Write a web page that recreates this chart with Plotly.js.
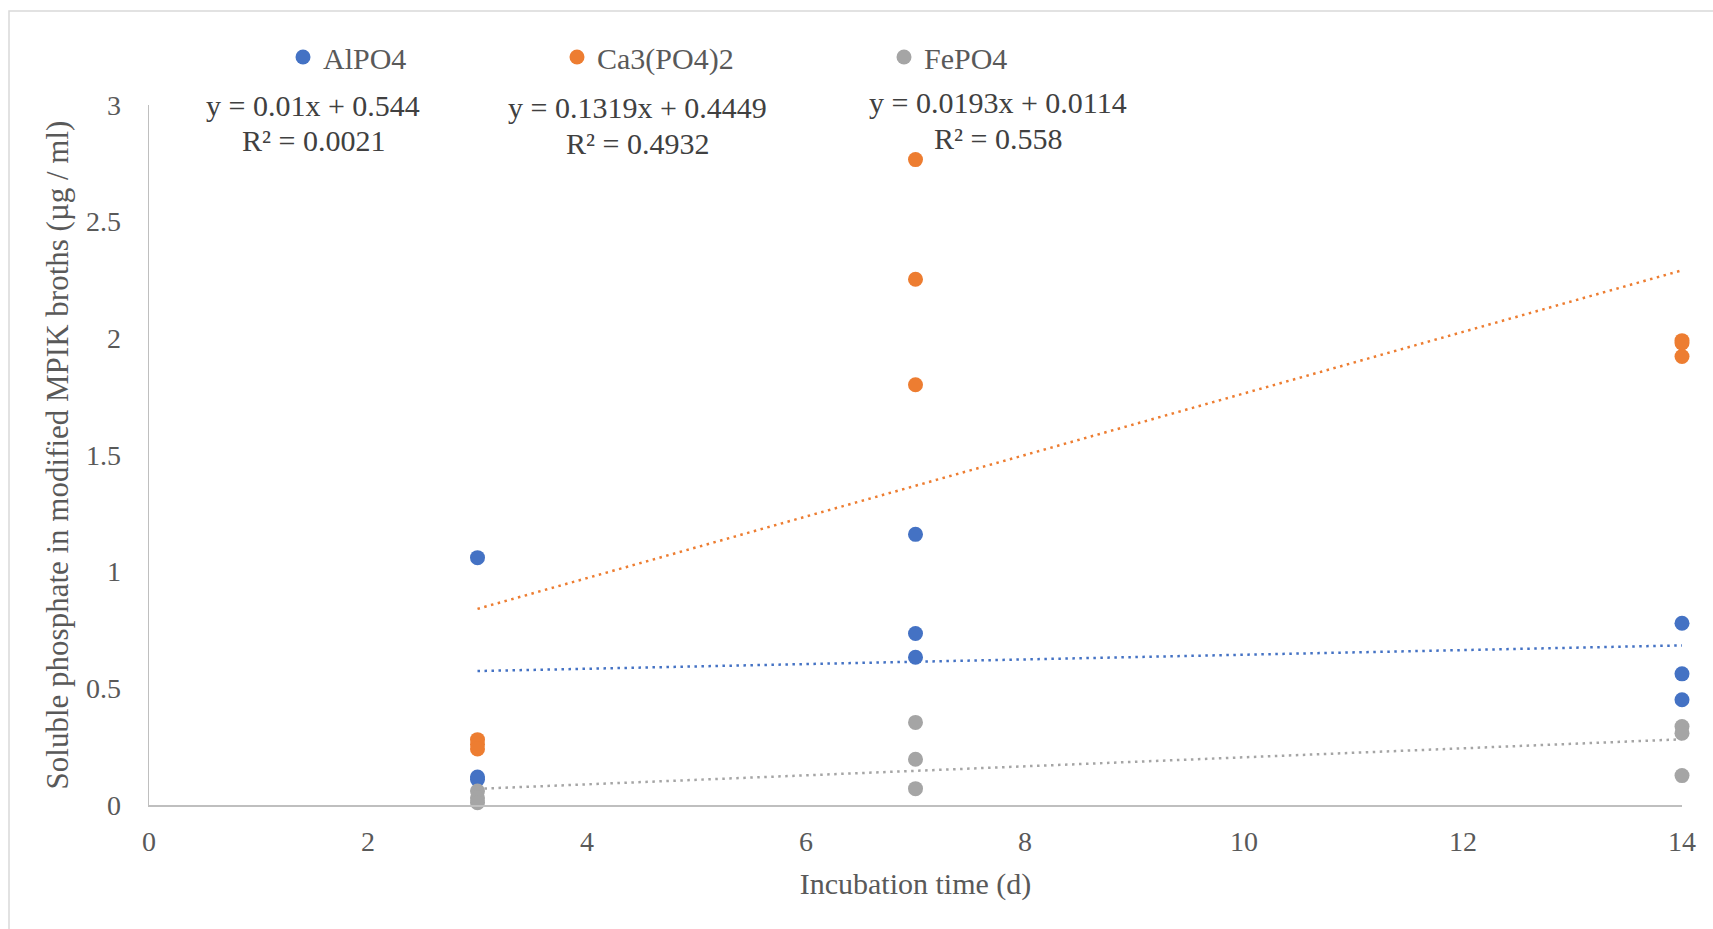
<!DOCTYPE html>
<html>
<head>
<meta charset="utf-8">
<script src="https://cdn.plot.ly/plotly-3.0.1.min.js"></script>
<style>html,body{margin:0;padding:0;background:#fff;}#chart{width:1713px;height:929px;}</style>
</head>
<body>
<div id="chart"></div>
<script>
// Incubation time (d) for each measurement
const days = [3, 3, 3, 7, 7, 7, 14, 14, 14];
// Soluble phosphate (µg / ml)
const alpo4   = [1.06, 0.12, 0.11, 1.16, 0.735, 0.633, 0.779, 0.562, 0.451];
const ca3po42 = [0.28, 0.26, 0.24, 2.766, 2.253, 1.801, 1.99, 1.98, 1.922];
const fepo4   = [0.06, 0.03, 0.01, 0.354, 0.196, 0.070, 0.336, 0.308, 0.126];

const seriesNames = ['AlPO4', 'Ca3(PO4)2', 'FePO4'];
const seriesColors = ['#4472C4', '#ED7D31', '#A5A5A5'];
// Linear trendlines as labelled on the chart
const slopes = [0.01, 0.1319, 0.0193];
const intercepts = [0.544, 0.4449, 0.0114];
const r2 = ['0.0021', '0.4932', '0.558'];
const eqText = ['y = 0.01x + 0.544', 'y = 0.1319x + 0.4449', 'y = 0.0193x + 0.0114'];
const trendX = [3, 14];

const xTicks = [0, 2, 4, 6, 8, 10, 12, 14];
const yTicks = [0, 0.5, 1, 1.5, 2, 2.5, 3];

const FONT = 'Liberation Serif, Times New Roman, serif';
const values = [alpo4, ca3po42, fepo4];
const legendIds = ['legend', 'legend2', 'legend3'];

const traces = [];
values.forEach((v, i) => {
  traces.push({
    type: 'scatter', mode: 'lines', x: trendX,
    y: trendX.map(x => slopes[i] * x + intercepts[i]),
    line: {color: seriesColors[i], width: 2.5, dash: '2.5px,4.5px'},
    showlegend: false, hoverinfo: 'skip', cliponaxis: false
  });
});
values.forEach((v, i) => {
  traces.push({
    type: 'scatter', mode: 'markers', name: seriesNames[i], x: days, y: v,
    marker: {color: seriesColors[i], size: 15}, cliponaxis: false, legend: legendIds[i]
  });
});

const L = 149, R = 31, T = 105, B = 124;
const W = 1713 - L - R, H = 929 - T - B;
const px = x => (x - L) / W;
const py = y => (929 - B - y) / H;

const eqPos = [[313, 105, 141], [637, 107, 143], [998, 102, 138]];
const annotations = [];
eqPos.forEach((p, i) => {
  annotations.push({xref: 'paper', yref: 'paper', x: px(p[0]), y: py(p[1]), text: eqText[i],
    showarrow: false, xanchor: 'center', yanchor: 'middle', font: {family: FONT, size: 30, color: '#404040'}});
  annotations.push({xref: 'paper', yref: 'paper', x: px(p[0]), y: py(p[2]), text: 'R² = ' + r2[i],
    showarrow: false, xanchor: 'center', yanchor: 'middle', font: {family: FONT, size: 30, color: '#404040'}});
});

const legendMarkerX = [303, 577, 904];
const legendBase = {orientation: 'h', xanchor: 'left', yanchor: 'middle', y: py(57),
  font: {family: FONT, size: 30, color: '#595959'}, bgcolor: 'rgba(0,0,0,0)', itemwidth: 30};

const layout = {
  width: 1713, height: 929,
  margin: {l: L, r: R, t: T, b: B, pad: 0},
  paper_bgcolor: '#ffffff', plot_bgcolor: '#ffffff',
  font: {family: FONT, color: '#595959', size: 28},
  showlegend: true,
  xaxis: {range: [0, 14], tickvals: xTicks, ticktext: xTicks.map(String), showgrid: false, zeroline: false,
    showline: true, linecolor: '#BFBFBF', linewidth: 2, ticks: 'outside', ticklen: 10, tickcolor: 'rgba(0,0,0,0)',
    tickfont: {family: FONT, size: 28, color: '#595959'},
    title: {text: 'Incubation time (d)', standoff: 17, font: {family: FONT, size: 30, color: '#595959'}}},
  yaxis: {range: [0, 3], tickvals: yTicks, ticktext: yTicks.map(String), showgrid: false, zeroline: false,
    showline: true, linecolor: '#BFBFBF', linewidth: 1.5, ticks: 'outside', ticklen: 21, tickcolor: 'rgba(0,0,0,0)',
    tickfont: {family: FONT, size: 28, color: '#595959'},
    title: {text: 'Soluble phosphate in modified MPIK broths (µg / ml)', standoff: 8, font: {family: FONT, size: 31, color: '#595959'}}},
  annotations: annotations,
  shapes: [{type: 'rect', xref: 'paper', yref: 'paper', x0: px(9), x1: px(1730), y0: py(940), y1: py(11),
    line: {color: '#D9D9D9', width: 1.5}, fillcolor: 'rgba(0,0,0,0)', layer: 'below'}]
};
legendIds.forEach((id, i) => {
  layout[id] = Object.assign({}, legendBase, {x: px(legendMarkerX[i] - 20)});
});

Plotly.newPlot('chart', traces, layout, {displayModeBar: false, staticPlot: true});
</script>
</body>
</html>
